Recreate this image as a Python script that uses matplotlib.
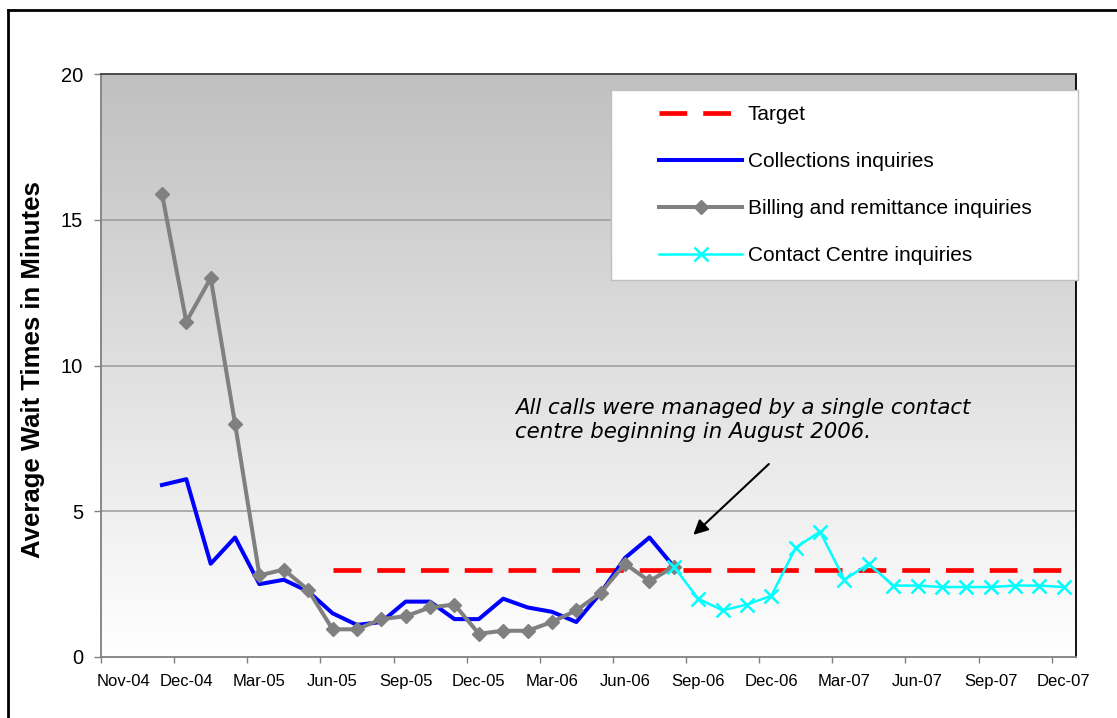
import numpy as np
import matplotlib
matplotlib.use("Agg")
import matplotlib.pyplot as plt
from matplotlib.lines import Line2D
from matplotlib.patches import Rectangle

plt.rcParams['font.family'] = ['Liberation Sans', 'DejaVu Sans']
plt.rcParams['lines.scale_dashes'] = False

# x tick labels (every 3 months) and their month index (0 = Nov-04)
tick_labels = ["Nov-04", "Dec-04", "Mar-05", "Jun-05", "Sep-05", "Dec-05", "Mar-06",
               "Jun-06", "Sep-06", "Dec-06", "Mar-07", "Jun-07", "Sep-07", "Dec-07"]
tick_pos = [-1.56, 1, 4, 7, 10, 13, 16, 19, 22, 25, 28, 31, 34, 37]

# Collections inquiries : Nov-04 .. Aug-06
coll_x = np.arange(0, 22)
coll_y = [5.9, 6.1, 3.2, 4.1, 2.5, 2.65, 2.25, 1.5, 1.1, 1.2, 1.9, 1.9, 1.3, 1.3,
          2.0, 1.7, 1.55, 1.2, 2.2, 3.4, 4.1, 3.1]

# Billing and remittance inquiries : Nov-04 .. Aug-06
bill_x = np.arange(0, 22)
bill_y = [15.9, 11.5, 13.0, 8.0, 2.8, 3.0, 2.3, 0.95, 0.95, 1.3, 1.4, 1.7, 1.8, 0.8,
          0.9, 0.9, 1.2, 1.6, 2.2, 3.2, 2.6, 3.1]

# Contact Centre inquiries : Aug-06 .. Dec-07
cc_x = np.arange(21, 38)
cc_y = [3.1, 2.0, 1.6, 1.8, 2.1, 3.75, 4.3, 2.65, 3.2, 2.45, 2.45, 2.4, 2.4, 2.4,
        2.45, 2.45, 2.4]

# Target : Jun-05 .. Dec-07
target_x = np.arange(7, 38)
target_y = np.full(len(target_x), 3.0)

W, H = 1117, 718
fig = plt.figure(figsize=(W / 100, H / 100), dpi=100)
ax = fig.add_axes([101 / W, 1 - 657 / H, 975 / W, 583 / H])

xmin, xmax = -2.5, 37.5
ymin, ymax = 0, 20

# gradient background of the plot area
grad = np.linspace(1.0, 0.0, 256).reshape(-1, 1)
top_c = np.array([192, 192, 192]) / 255
bot_c = np.array([255, 255, 255]) / 255
img = top_c * grad[..., None] + bot_c * (1 - grad[..., None])
ax.imshow(img, extent=[xmin, xmax, ymin, ymax], aspect='auto', zorder=0, origin='upper')

ax.set_xlim(xmin, xmax)
ax.set_ylim(ymin, ymax)

# grid lines
for gy in [5, 10, 15]:
    ax.axhline(gy, color='#a0a0a0', lw=1.2, zorder=1)

# series
ax.plot(target_x, target_y, color='#ff0000', lw=3.4, dashes=(20, 11.5), zorder=2,
        label="Target")
ax.plot(coll_x, coll_y, color='#0000ff', lw=2.9, zorder=3, label="Collections inquiries")
ax.plot(bill_x, bill_y, color='#808080', lw=2.9, marker='D', ms=7, zorder=4,
        label="Billing and remittance inquiries")
ax.plot(cc_x, cc_y, color='#00ffff', lw=1.8, marker='x', ms=10, mew=1.8, zorder=5,
        label="Contact Centre inquiries")

# axes look
ax.spines['left'].set_color('#808080')
ax.spines['bottom'].set_color('#808080')
ax.spines['top'].set_color('#404040')
ax.spines['right'].set_color('black')
for s in ax.spines.values():
    s.set_linewidth(1.3)

ax.set_yticks([0, 5, 10, 15, 20])
ax.tick_params(axis='y', direction='out', length=5, width=1, color='#808080',
               labelsize=14.5, pad=8)

# major x ticks at month boundaries, labels on minor ticks
ax.set_xticks(np.arange(-2.5, 37, 3))
ax.set_xticklabels([])
ax.tick_params(axis='x', which='major', direction='out', length=4, width=1, color='#808080')
ax.set_xticks(tick_pos, minor=True)
ax.set_xticklabels(tick_labels, minor=True)
ax.tick_params(axis='x', which='minor', length=0, labelsize=12, pad=12)

fig.text(33 / W, 1 - 370 / H, "Average Wait Times in Minutes", rotation=90,
         ha='center', va='center', fontsize=18.5, fontweight='bold')

# annotation
ax.text(14.5, 8.9, "All calls were managed by a single contact\ncentre beginning in August 2006.",
        family='DejaVu Sans', style='italic', fontsize=15.3, ha='left', va='top',
        linespacing=1.25, zorder=6)
ax.annotate("", xy=(21.8, 4.19), xytext=(24.9, 6.62),
            arrowprops=dict(arrowstyle='-|>', color='black', lw=1.5, mutation_scale=22,
                            shrinkA=0, shrinkB=0), zorder=6)

# legend box and legend
ax.add_patch(Rectangle((611 / W, 1 - 280 / H), 467 / W, 190 / H, transform=fig.transFigure,
                       facecolor='white', edgecolor='#c0c0c0', lw=1, zorder=8, clip_on=False))
leg = ax.legend(loc='upper left', bbox_to_anchor=(659 / W, 1 - 105 / H),
                bbox_transform=fig.transFigure, frameon=False, fontsize=15,
                handlelength=4.0, handletextpad=0.25, labelspacing=1.35, borderpad=0,
                borderaxespad=0, numpoints=1)
leg.set_zorder(10)

# outer chart border (top and left visible)
fig.add_artist(Line2D([8 / W, 1.0], [1 - 10 / H, 1 - 10 / H], transform=fig.transFigure,
                      color='black', lw=2))
fig.add_artist(Line2D([8 / W, 8 / W], [0, 1 - 10 / H], transform=fig.transFigure,
                      color='black', lw=2))

fig.savefig("out.png", dpi=100, facecolor='white')
